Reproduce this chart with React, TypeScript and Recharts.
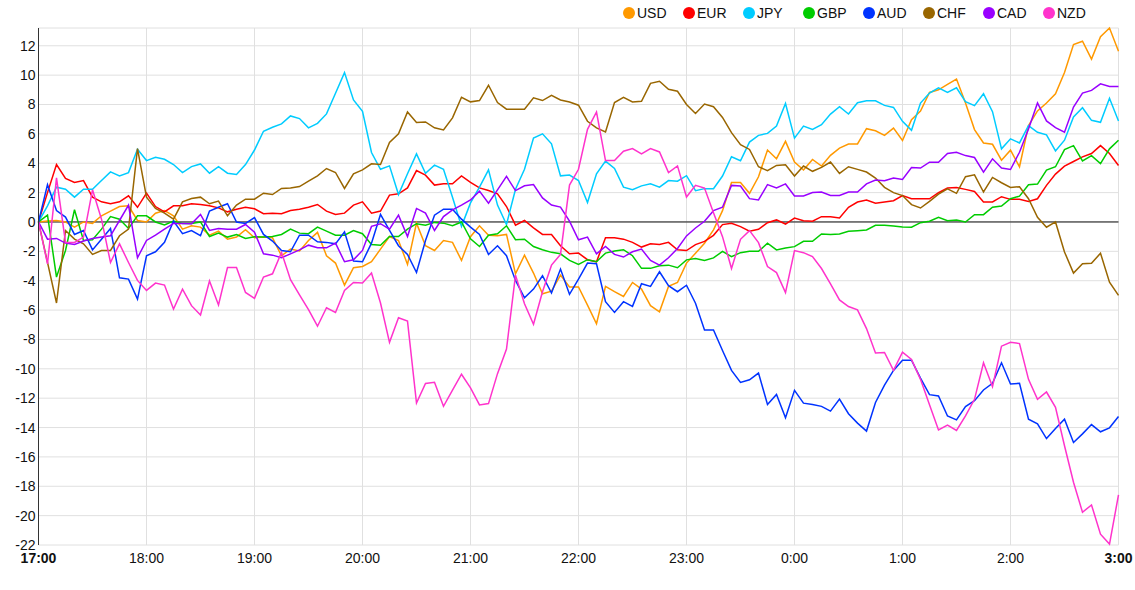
import React from 'react';
import { CartesianGrid, Line, LineChart, ReferenceLine, XAxis, YAxis } from 'recharts';

// 5-minute steps from 17:00 to 3:00 (121 points)
const STEP_MIN = 5;
const hourLabels = ['17:00', '18:00', '19:00', '20:00', '21:00', '22:00', '23:00', '0:00', '1:00', '2:00', '3:00'];
const yTicks = [-22, -20, -18, -16, -14, -12, -10, -8, -6, -4, -2, 0, 2, 4, 6, 8, 10, 12];

const usd = [
  0, 0.06, 0.1, 0, -0.35, 0, -0.1, 0.42, 0.74, 1.05, 1.1, 0.1, 0,
  0.6, 0.78, 0.42, -0.49, -0.26, -0.35, -0.9, -0.62, -1.17, -1.03, -0.53, -1.08,
  -1.03, -1.08, -2.3, -1.85, -1.98, -1.26, -0.71, -2.3, -2.8, -4.3, -3.12, -3.03,
  -2.71, -1.85, -0.99, -1.26, -2.89, -0.08, -1.62, -1.94, -1.26, -1.39, -2.62, -1.0,
  -0.26, -0.9, -0.94, -0.85, -3.53, -2.26, -3.48, -4.89, -4.71, -3.62, -4.43, -4.43,
  -5.66, -6.93, -4.39, -4.75, -5.07, -4.12, -4.57, -5.7, -6.12, -4.39, -4.12, -2.8,
  -2.13, -1.45, -0.54, 0.77, 2.68, 2.68, 1.95, 3.08, 4.9, 4.31, 5.49, 4.08,
  3.54, 4.26, 3.81, 4.54, 5.03, 5.31, 5.31, 6.35, 6.21, 5.9, 6.39, 5.55,
  6.97, 7.56, 8.82, 9.0, 9.37, 9.73, 8.1, 6.29, 5.38, 5.29, 4.21, 4.89,
  3.76, 6.56, 7.56, 8.1, 8.73, 10.18, 12.08, 12.31, 11.09, 12.62, 13.21, 11.63,
];
const eur = [
  0, 2.0, 3.91, 2.96, 2.69, 2.82, 1.69, 1.37, 1.24, 1.37, 1.78, 1.0, 1.96,
  1.05, 0.69, 1.1, 1.1, 1.24, 1.19, 1.1, 0.96, 0.69, 0.87, 1.0, 0.9,
  0.56, 0.6, 0.56, 0.78, 0.87, 1.0, 1.19, 0.74, 0.51, 0.6, 1.15, 1.37,
  0.6, 0.74, 1.83, 1.92, 2.32, 3.5, 3.19, 2.51, 2.6, 2.6, 3.14, 2.7,
  2.32, 2.14, 1.92, 1.05, -0.22, 0.1, -0.4, -0.85, -0.85, -1.62, -2.17, -2.12,
  -2.57, -2.71, -1.08, -1.08, -1.17, -1.39, -1.71, -1.49, -1.53, -1.39, -1.89, -1.95,
  -1.54, -1.32, -0.91, -0.18, -0.09, -0.32, -0.63, -0.5, -0.05, 0.14, -0.14, 0.27,
  0.09, 0.05, 0.36, 0.36, 0.27, 1.0, 1.36, 1.5, 1.27, 1.36, 1.45, 1.8,
  1.58, 1.58, 1.58, 1.99, 2.31, 2.35, 2.22, 2.08, 1.36, 1.36, 1.72, 1.54,
  1.54, 1.4, 1.58, 2.49, 3.26, 3.8, 4.12, 4.43, 4.66, 5.2, 4.66, 3.85,
];
const jpy = [
  0, 1.1, 2.37, 2.23, 1.69, 2.23, 2.23, 2.82, 3.41, 3.14, 3.36, 4.95, 4.18,
  4.41, 4.27, 3.91, 3.36, 3.77, 3.95, 3.32, 3.77, 3.32, 3.23, 3.91, 4.9,
  6.18, 6.45, 6.68, 7.22, 7.04, 6.41, 6.72, 7.36, 8.77, 10.17, 8.31, 7.54,
  4.73, 3.59, 3.82, 1.87, 3.28, 4.64, 3.32, 3.87, 3.59, 1.69, -0.3, 1.3,
  2.37, 3.55, 1.15, -0.17, 2.23, 3.59, 5.72, 6.0, 5.32, 3.14, 3.19, 2.82,
  1.33, 3.28, 4.14, 3.64, 2.37, 2.19, 2.46, 2.6, 2.37, 2.82, 2.78, 3.15,
  2.13, 2.27, 2.27, 3.13, 4.44, 4.17, 5.44, 5.9, 6.03, 6.53, 8.07, 5.71,
  6.53, 6.3, 6.62, 7.35, 7.85, 7.35, 8.12, 8.25, 8.25, 7.94, 7.8, 6.85,
  6.24, 8.1, 8.78, 9.14, 8.82, 9.14, 8.19, 7.92, 8.73, 7.51, 4.98, 5.66,
  5.38, 6.56, 6.11, 5.93, 4.84, 5.57, 7.15, 7.78, 6.92, 6.79, 8.42, 6.88,
];
const gbp = [
  0, 0.46, -3.75, -1.94, 0.83, -1.26, -1.21, -0.49, 0.37, 0.19, -0.44, 0.42, 0.42,
  0, -0.2, 0.06, -0.1, -0.1, 0, -0.99, -0.76, -1.03, -0.85, -1.12, -1.0,
  -1.03, -0.99, -0.85, -0.49, -0.76, -0.8, -0.35, -0.62, -0.9, -0.9, -0.58, -0.8,
  -1.53, -1.58, -0.99, -0.99, -0.49, -0.12, -0.22, -0.03, -0.08, -0.26, 0, -1.15,
  -1.67, -0.9, -0.8, -0.26, -1.21, -1.17, -1.67, -1.89, -2.07, -2.17, -2.62, -2.89,
  -2.57, -2.71, -2.12, -1.98, -1.89, -2.3, -3.16, -3.16, -2.98, -2.94, -3.12, -2.58,
  -2.49, -2.63, -2.45, -2.0, -2.36, -2.09, -2.0, -2.0, -1.45, -1.9, -1.77, -1.68,
  -1.32, -1.32, -0.82, -0.86, -0.82, -0.63, -0.59, -0.54, -0.23, -0.23, -0.27, -0.34,
  -0.36, -0.05, 0.05, 0.32, 0.09, 0.14, 0, 0.5, 0.5, 1.0, 1.09, 1.58,
  1.76, 2.53, 2.58, 3.53, 3.76, 4.93, 5.2, 4.16, 4.52, 3.98, 4.98, 5.57,
];
const aud = [
  0, 2.54, 0.78, 0.33, -0.85, -0.58, -1.9, -1.17, -0.44, -3.8, -3.89, -5.25, -2.3,
  -2.03, -1.39, 0.06, -0.8, -0.58, -0.94, 0.74, 1.0, 1.24, 0, -0.1, 0.3,
  -0.85, -1.3, -1.94, -2.03, -0.9, -0.9, -1.35, -1.39, -1.49, -0.67, -2.66, -2.71,
  -1.44, 0.51, -0.58, -1.62, -2.21, -3.44, -1.26, 0.46, 0.87, 0.87, 0.19, -0.35,
  -0.85, -2.21, -1.62, -2.3, -3.98, -5.16, -4.57, -3.66, -4.84, -3.21, -4.93, -3.89,
  -2.8, -2.85, -5.43, -6.16, -5.43, -5.75, -4.21, -4.39, -3.39, -4.34, -4.75, -4.31,
  -5.53, -7.35, -7.35, -8.75, -10.11, -10.93, -10.75, -10.29, -12.43, -11.75, -13.33, -11.47,
  -12.34, -12.43, -12.56, -12.88, -12.06, -13.06, -13.7, -14.24, -12.29, -11.11, -10.11, -9.42,
  -9.41, -10.63, -11.76, -11.85, -13.21, -13.48, -12.57, -12.17, -11.44, -10.99, -9.59, -11.04,
  -10.99, -13.43, -13.75, -14.75, -14.07, -13.43, -15.02, -14.43, -13.8, -14.29, -14.02, -13.25,
];
const chf = [
  0, -2.75, -5.52, -0.58, -1.17, -1.49, -2.21, -1.94, -1.94, -0.94, -0.49, 5.0, 1.69,
  0.92, 0.6, 0.19, 1.37, 1.6, 1.69, 1.24, 1.42, 0.42, 1.15, 1.55, 1.55,
  1.96, 1.87, 2.28, 2.32, 2.41, 2.78, 3.14, 3.64, 3.37, 2.28, 3.28, 3.55,
  3.96, 3.91, 5.41, 6.0, 7.49, 6.77, 6.81, 6.41, 6.27, 7.09, 8.49, 8.18,
  8.27, 9.31, 8.13, 7.68, 7.68, 7.68, 8.45, 8.27, 8.63, 8.31, 8.17, 7.95,
  6.86, 6.41, 6.13, 8.13, 8.49, 8.17, 8.22, 9.44, 9.58, 9.04, 8.9, 8.0,
  7.39, 8.03, 7.85, 7.12, 6.08, 5.26, 4.94, 3.76, 3.49, 3.85, 3.9, 3.13,
  3.81, 3.45, 3.72, 4.08, 3.31, 3.76, 3.58, 3.4, 2.99, 2.36, 2.0, 1.8,
  1.18, 0.95, 1.4, 1.9, 2.26, 1.95, 3.08, 3.21, 2.04, 3.03, 2.67, 2.35,
  2.4, 1.58, 0.32, -0.36, 0, -2.04, -3.48, -2.85, -2.81, -2.13, -4.1, -5.0,
];
const cad = [
  0, -1.17, -1.12, -1.44, -1.53, -1.3, -1.12, -1.03, -0.94, 0.1, 1.15, -2.44, -1.26,
  -0.9, -0.49, -0.1, -0.1, -0.12, 0.51, -0.58, -0.44, -0.49, -0.49, -0.17, -0.7,
  -2.17, -2.26, -2.44, -2.17, -1.9, -1.58, -1.76, -1.76, -1.44, -2.71, -2.57, -1.94,
  -0.3, -0.12, -0.49, 0.46, -0.99, 0.92, 0.6, -0.58, 0.37, 0.83, 1.15, 1.5,
  2.1, 1.28, 2.19, 3.1, 2.14, 2.46, 2.55, 1.64, 1.15, 1.01, 0.06, -1.21,
  -1.03, -2.17, -1.67, -2.21, -2.39, -2.03, -1.85, -2.62, -2.94, -2.44, -1.8, -0.95,
  -0.41, 0.05, 0.77, 1.0, 2.49, 2.45, 1.59, 1.5, 2.54, 2.31, 2.59, 1.77,
  1.77, 2.0, 2.04, 1.81, 1.81, 2.04, 2.04, 2.59, 2.86, 2.81, 2.99, 2.9,
  3.71, 3.67, 4.07, 4.07, 4.66, 4.75, 4.52, 4.39, 3.39, 4.3, 3.67, 3.57,
  4.75, 6.33, 8.1, 6.88, 6.43, 6.11, 7.83, 8.78, 8.96, 9.41, 9.23, 9.23,
];
const nzd = [
  0, -2.85, 3.0, -1.39, -1.39, -1.03, 2.19, 0.19, -2.76, -1.49, -2.76, -3.98, -4.66,
  -4.16, -4.3, -5.93, -4.57, -5.7, -6.34, -4.02, -5.65, -3.1, -3.1, -4.8, -5.2,
  -3.75, -3.53, -2.07, -3.93, -4.97, -5.97, -7.1, -5.84, -6.16, -4.66, -4.12, -4.16,
  -3.48, -5.52, -8.2, -6.52, -6.75, -12.33, -11.0, -10.92, -12.55, -11.46, -10.37, -11.3,
  -12.46, -12.37, -10.33, -8.65, -3.62, -5.57, -6.97, -4.75, -2.94, -2.21, 2.51, 3.59,
  6.31, 7.49, 4.18, 4.18, 4.82, 5.0, 4.64, 5.0, 4.77, 3.37, 3.82, 1.7,
  2.49, 2.31, 0.63, -1.0, -3.17, -1.18, -0.59, -1.41, -3.04, -3.45, -4.81, -1.95,
  -2.09, -2.36, -3.17, -4.22, -5.31, -5.76, -5.99, -7.26, -8.93, -8.89, -10.11, -8.87,
  -9.36, -10.72, -12.44, -14.16, -13.84, -14.2, -13.21, -12.08, -9.59, -11.22, -8.46, -8.19,
  -8.28, -10.72, -12.08, -11.58, -12.62, -15.24, -17.73, -19.77, -19.27, -21.26, -21.94, -18.59,
];

const series = [
  { key: 'USD', values: usd, color: '#ff9900' },
  { key: 'EUR', values: eur, color: '#ff0000' },
  { key: 'JPY', values: jpy, color: '#00ccff' },
  { key: 'GBP', values: gbp, color: '#00cc00' },
  { key: 'AUD', values: aud, color: '#0033ff' },
  { key: 'CHF', values: chf, color: '#996600' },
  { key: 'CAD', values: cad, color: '#9900ff' },
  { key: 'NZD', values: nzd, color: '#ff33cc' },
];

const rows = usd.map((_, i) => {
  const row: Record<string, number> = { t: i * STEP_MIN };
  series.forEach((s) => {
    row[s.key] = s.values[i];
  });
  return row;
});

const xTicks = hourLabels.map((_, i) => i * 60);
const lastTick = xTicks[xTicks.length - 1];

const FONT = "Arial, 'Liberation Sans', sans-serif";

// first and last hour labels are bold in the original
function HourTick({ x, y, payload }: any) {
  const v = payload.value as number;
  const bold = v === 0 || v === lastTick;
  return (
    <text x={x} y={y} dy="0.71em" textAnchor="middle" fontSize={14} fontFamily={FONT} fontWeight={bold ? 'bold' : 'normal'} fill="#111">
      {hourLabels[v / 60]}
    </text>
  );
}

function LegendRow() {
  return (
    <div style={{ position: 'absolute', left: 623, top: 5, display: 'flex', fontFamily: FONT, fontSize: 14, color: '#111' }}>
      {series.map((s) => (
        <div key={s.key} style={{ width: 60, display: 'flex', alignItems: 'center', height: 16 }}>
          <span style={{ width: 12, height: 12, borderRadius: 6, background: s.color, marginRight: 2, flex: 'none' }} />
          <span>{s.key}</span>
        </div>
      ))}
    </div>
  );
}

export default function App() {
  return (
    <div style={{ position: 'absolute', left: 0, top: 0, width: 1135, height: 590, background: '#fff' }}>
      <LineChart width={1135} height={590} data={rows} margin={{ top: 28, right: 16.5, bottom: 15, left: 0.5 }}>
        <CartesianGrid stroke="#e0e0e0" />
        <XAxis
          dataKey="t"
          type="number"
          domain={[0, lastTick]}
          ticks={xTicks}
          tick={<HourTick />}
          axisLine={false}
          tickLine={false}
          height={30}
        />
        <YAxis
          type="number"
          domain={[-22, 'dataMax']}
          ticks={yTicks}
          interval={0}
          width={38}
          axisLine={{ stroke: '#333' }}
          tickLine={false}
          tickSize={0}
          tickMargin={3}
          tick={{ fontSize: 14, fontFamily: FONT, fill: '#111' }}
        />
        <ReferenceLine y={0} stroke="#111" />
        {series.map((s) => (
          <Line
            key={s.key}
            type="linear"
            dataKey={s.key}
            stroke={s.color}
            strokeWidth={1.5}
            dot={false}
            activeDot={false}
            isAnimationActive={false}
          />
        ))}
      </LineChart>
      <LegendRow />
    </div>
  );
}
